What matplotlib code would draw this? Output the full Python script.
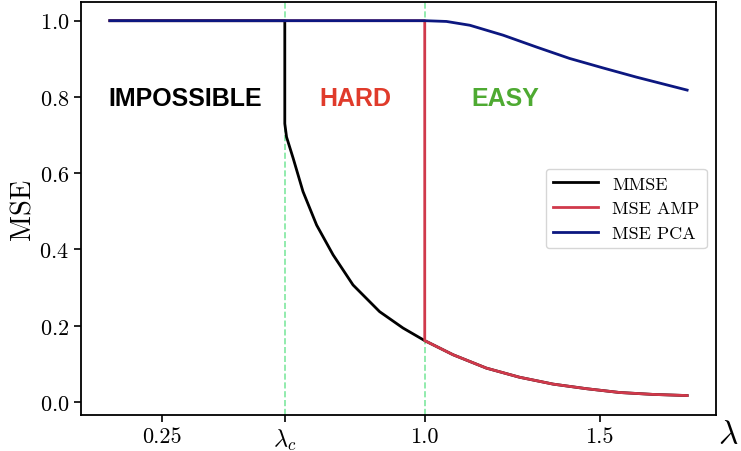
import numpy as np
import matplotlib
matplotlib.use('Agg')
from matplotlib import pyplot as plt

plt.rcParams['font.family'] = 'serif'
plt.rcParams['font.serif'] = ['cmr10']
plt.rcParams['mathtext.fontset'] = 'cm'
plt.rcParams['axes.formatter.use_mathtext'] = True

lam_c = 0.6

# MMSE (hard phase between lam_c and 1, follows AMP afterwards)
lam_mmse = [0.1, 0.6, 0.6, 0.605, 0.624, 0.652, 0.691, 0.738, 0.795, 0.871, 0.938, 1.0,
            1.081, 1.176, 1.271, 1.367, 1.462, 1.557, 1.652, 1.75]
mmse = [1.0, 1.0, 0.73, 0.695, 0.639, 0.552, 0.464, 0.386, 0.307, 0.237, 0.194, 0.161,
        0.124, 0.089, 0.065, 0.047, 0.035, 0.025, 0.020, 0.017]

# AMP
lam_amp = [0.1, 1.0, 1.0, 1.081, 1.176, 1.271, 1.367, 1.462, 1.557, 1.652, 1.75]
mse_amp = [1.0, 1.0, 0.161, 0.124, 0.089, 0.065, 0.047, 0.035, 0.025, 0.020, 0.017]

# PCA
lam_pca = [0.1, 1.0, 1.062, 1.129, 1.224, 1.319, 1.414, 1.51, 1.605, 1.75]
mse_pca = [1.0, 1.0, 0.998, 0.988, 0.962, 0.931, 0.901, 0.876, 0.852, 0.818]

xticks = [0.25, lam_c, 1.0, 1.5]
xticklabels = ['0.25', r'$\lambda_c$', '1.0', '1.5']

fig = plt.figure(figsize=(7.41, 4.52), dpi=100)
ax = fig.add_axes([81/741, 1 - 416/452, 635/741, 413/452])

ax.axvline(lam_c, color='#7fe8a0', ls='--', lw=1.2)
ax.axvline(1.0, color='#7fe8a0', ls='--', lw=1.2)

ax.plot(lam_mmse, mmse, color='black', lw=2, label='MMSE')
ax.plot(lam_amp, mse_amp, color='#d0394b', lw=2, label='MSE AMP')
ax.plot(lam_pca, mse_pca, color='#0c1780', lw=2, label='MSE PCA')

bold = dict(family='Liberation Sans', weight='bold', fontsize=18, ha='center', va='center')
ax.text(0.314, 0.797, 'IMPOSSIBLE', color='black', **bold)
ax.text(0.803, 0.797, 'HARD', color='#e03b2b', **bold)
ax.text(1.23, 0.797, 'EASY', color='#4eaa32', **bold)

ax.set_xlim(0.0175, 1.8325)
ax.set_ylim(-0.034, 1.049)
ax.set_xticks(xticks)
ax.set_xticklabels(xticklabels)
ax.set_yticks([0.0, 0.2, 0.4, 0.6, 0.8, 1.0])
ax.tick_params(labelsize=16, width=1.2, length=5)
ax.get_xticklabels()[1].set_fontsize(17.5)
for s in ax.spines.values():
    s.set_linewidth(1.3)
ax.set_ylabel('MSE', fontsize=20.5, labelpad=2)
fig.text(738/741, 1 - 436/452, r'$\lambda$', fontsize=24, ha='right', va='center')

ax.legend(loc='center right', fontsize=13, handlelength=2.5)

fig.savefig('out.png', dpi=100)
